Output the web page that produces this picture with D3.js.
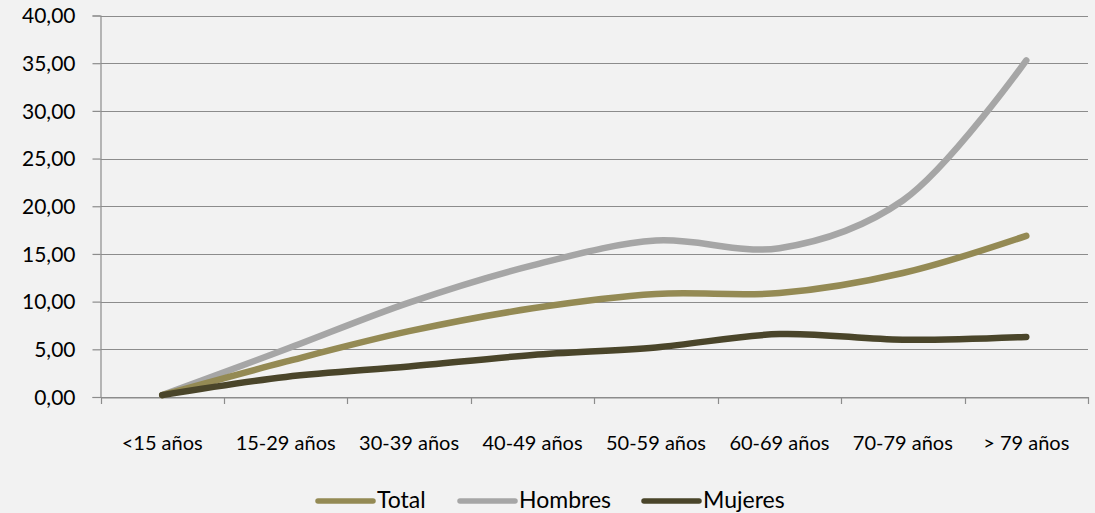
<!DOCTYPE html>
<html><head><meta charset="utf-8">
<script src="https://cdn.jsdelivr.net/npm/d3@7"></script>
<style>
html,body{margin:0;padding:0;background:#F2F2F2;}
svg{display:block;}
text{font-family:Lato, "Open Sans", sans-serif;fill:#000;}
</style></head>
<body>
<svg id="c" width="1095" height="513"></svg>
<script>
const categories = ["<15 años","15-29 años","30-39 años","40-49 años","50-59 años","60-69 años","70-79 años","> 79 años"];
const total    = [0.2, 3.7, 6.9, 9.3, 10.8, 10.9, 13.0, 16.9];
const hombres  = [0.2, 5.0, 9.9, 13.8, 16.4, 15.6, 20.6, 35.3];
const mujeres  = [0.2, 2.1, 3.2, 4.4, 5.2, 6.6, 6.0, 6.3];
const yTicks   = [0,5,10,15,20,25,30,35,40];
const seriesNames = ["Total","Hombres","Mujeres"];
const seriesColors = ["#948A54","#A6A6A6","#4A452A"];

const series = [
  {name: seriesNames[0], values: total, color: seriesColors[0]},
  {name: seriesNames[1], values: hombres, color: seriesColors[1]},
  {name: seriesNames[2], values: mujeres, color: seriesColors[2]}
];

const svg = d3.select("#c");
const mLeft = 100.5, mRight = 1088, mTop = 15.5, mBottom = 397;

const x = d3.scaleBand().domain(categories).range([mLeft, mRight]).padding(0);
const y = d3.scaleLinear().domain([0,40]).range([mBottom, mTop]);

const fmt = v => d3.format(".2f")(v).replace(".", ",");

// gridlines
svg.append("g").selectAll("line").data(yTicks).join("line")
  .attr("x1", mLeft).attr("x2", mRight)
  .attr("y1", d => Math.round(y(d))+0.5).attr("y2", d => Math.round(y(d))+0.5)
  .attr("stroke", "#8C8C8C").attr("stroke-width", 1.2);

// y axis
const yAxis = svg.append("g").attr("transform", `translate(${mLeft},0)`)
  .call(d3.axisLeft(y).tickValues(yTicks).tickFormat(fmt).tickSize(8).tickPadding(17));
yAxis.select(".domain").attr("stroke","#8C8C8C").attr("stroke-width",1.2);
yAxis.selectAll(".tick line").attr("stroke","#8C8C8C").attr("stroke-width",1.2);
yAxis.selectAll("text").style("font-size","21px").attr("fill","#000").attr("dy","0.35em");

// x axis
const xAxis = svg.append("g").attr("transform", `translate(0,${mBottom+0.5})`)
  .call(d3.axisBottom(x).tickSize(0).tickPadding(38));
xAxis.select(".domain").attr("stroke","#8C8C8C").attr("stroke-width",1.2);
xAxis.selectAll("text").style("font-size","20px").attr("fill","#000");
// category boundary ticks
const bounds = categories.map(c => x(c)).concat([mRight]);
svg.append("g").selectAll("line").data(bounds).join("line")
  .attr("x1", d => Math.round(d)+0.5).attr("x2", d => Math.round(d)+0.5)
  .attr("y1", mBottom).attr("y2", mBottom+7)
  .attr("stroke","#8C8C8C").attr("stroke-width",1.2);

// lines
const line = d3.line()
  .x((d,i) => x(categories[i]) + x.bandwidth()/2)
  .y(d => y(d))
  .curve(d3.curveCatmullRom.alpha(0.5));

svg.append("g").selectAll("path").data([series[1], series[0], series[2]]).join("path")
  .attr("d", d => line(d.values))
  .attr("fill","none")
  .attr("stroke", d => d.color)
  .attr("stroke-width", 6.5)
  .attr("stroke-linecap","round")
  .attr("stroke-linejoin","round");

// legend
const legendItems = [
  {s: series[0], x0: 318},
  {s: series[1], x0: 460},
  {s: series[2], x0: 644}
];
const lg = svg.append("g");
legendItems.forEach(it => {
  lg.append("line").attr("x1", it.x0).attr("x2", it.x0+55)
    .attr("y1", 501).attr("y2", 501)
    .attr("stroke", it.s.color).attr("stroke-width", 5.5).attr("stroke-linecap","round");
  lg.append("text").attr("x", it.x0+59).attr("y", 508)
    .style("font-size","23px").text(it.s.name);
});
</script>
</body></html>
